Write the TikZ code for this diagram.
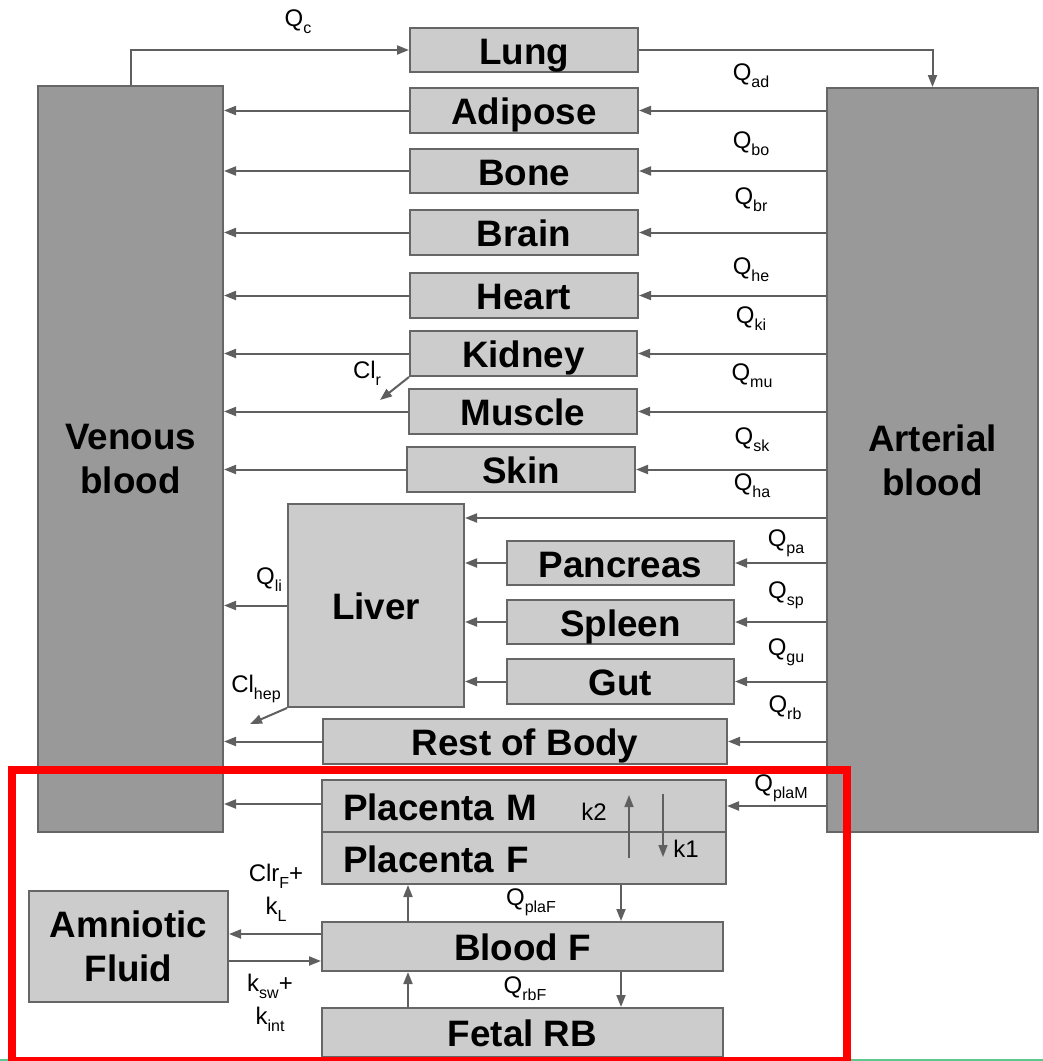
\documentclass[tikz,border=0pt]{standalone}
\usepackage{fontspec}
\setmainfont{Liberation Sans}
\usetikzlibrary{arrows.meta, calc, positioning}
\definecolor{grauhell}{HTML}{CCCCCC}
\definecolor{graudunkel}{HTML}{999999}
\definecolor{randgrau}{HTML}{666666}
\definecolor{pfeilgrau}{HTML}{5F5F5F}
\definecolor{rahmenrot}{HTML}{FF0000}
\definecolor{streifen}{HTML}{5CC88E}
\newcommand{\tief}[1]{\raisebox{-7pt}{\fontsize{16}{16}\selectfont #1}}

\begin{document}
\begin{tikzpicture}[x=1pt, y=-1pt,
    box/.style={draw=randgrau, line width=2pt, fill=grauhell, inner sep=0pt,
      font=\fontsize{36.8}{44}\selectfont\bfseries, align=center},
    zeile/.style={box, text height=28, text depth=0},
    blutbox/.style={box, fill=graudunkel},
    fluss/.style={draw=pfeilgrau, line width=2pt, -{Triangle[length=12pt,width=9pt]}},
    lab/.style={font=\fontsize{24}{33}\selectfont, inner sep=0pt, align=center}]
  \useasboundingbox (0,0) rectangle (1043,1061);
  \clip (0,0) rectangle (1043,1061);

  % Blutkompartimente
  \node[blutbox, minimum width=185, minimum height=746] (ven) at (130.5,459) {Venous\\blood};
  \node[blutbox, minimum width=211, minimum height=744] (art) at (932.5,460) {Arterial\\blood};

  % Organe
  \node[zeile, minimum width=228, minimum height=44] (lung) at (524,50) {Lung};
  \node[zeile, minimum width=228, minimum height=45] (adip) at (524,110.5) {Adipose};
  \node[zeile, minimum width=228, minimum height=44] (bone) at (524,171) {Bone};
  \node[zeile, minimum width=228, minimum height=45] (brain) at (524,232.5) {Brain};
  \node[zeile, minimum width=228, minimum height=45] (heart) at (524,295.5) {Heart};
  \node[zeile, minimum width=227, minimum height=45] (kid) at (523.5,353.5) {Kidney};
  \node[zeile, minimum width=228, minimum height=45] (musc) at (523,411.5) {Muscle};
  \node[zeile, minimum width=228, minimum height=45] (skin) at (521,469.5) {Skin};
  \node[zeile, minimum width=176, minimum height=203] (liver) at (376,605.5) {Liver};
  \node[zeile, minimum width=227, minimum height=44] (panc) at (620.5,563) {Pancreas};
  \node[zeile, minimum width=227, minimum height=44] (splen) at (620.5,622) {Spleen};
  \node[zeile, minimum width=227, minimum height=45] (gut) at (620.5,681.5) {Gut};
  \node[zeile, minimum width=404, minimum height=45] (rob) at (525,741.5) {Rest of Body};

  % Fetus
  \node[zeile, minimum width=404, minimum height=52, text width=362, align=left] (placM) at (524,806) {Placenta M};
  \node[zeile, minimum width=404, minimum height=52, text width=362, align=left] (placF) at (524,858) {Placenta F};
  \node[zeile, minimum width=401, minimum height=49] (bldF) at (522.5,946.5) {Blood F};
  \node[zeile, minimum width=401, minimum height=49] (fetRB) at (522.5,1032.5) {Fetal RB};
  \node[box, minimum width=199, minimum height=111] (amn) at (128.5,946.5) {Amniotic\\Fluid};

  % Kreislauf
  \draw[fluss] (ven.north) |- (lung.west);
  \draw[fluss] (lung.east) -| (art.north);
  \foreach \o in {adip, bone, brain, heart, kid, musc, skin, rob} {
    \draw[fluss] (art.west |- \o.east) -- (\o.east);
    \draw[fluss] (\o.west) -- (ven.east |- \o.west);
  }
  \coordinate (lebereingang) at ([yshift=-15pt]liver.north east);
  \draw[fluss] (art.west |- lebereingang) -- (lebereingang);
  \foreach \o in {panc, splen, gut} {
    \draw[fluss] (art.west |- \o.east) -- (\o.east);
    \draw[fluss] (\o.west) -- (liver.east |- \o.west);
  }
  \draw[fluss] (liver.west) -- (ven.east |- liver.west);
  \draw[fluss] (art.west |- placM.east) -- (placM.east);
  \coordinate (plaus) at ([yshift=2pt]placM.west);
  \draw[fluss] (plaus) -- (ven.east |- plaus);

  % Clearance
  \coordinate (clr) at (380,400);
  \coordinate (hepaus) at (250,724);
  \draw[fluss] (kid.south west) -- (clr);
  \draw[fluss] (liver.south west) -- (hepaus);

  % Plazentatransfer
  \coordinate (k2unten) at (629,858);
  \coordinate (k2oben) at (629,795);
  \coordinate (k1oben) at (663,794);
  \coordinate (k1unten) at (663,857);
  \draw[fluss, line width=1.6pt] (k2unten) -- (k2oben);
  \draw[fluss, line width=1.6pt] (k1oben) -- (k1unten);
  \draw[fluss] (408,0 |- bldF.north) -- (408,0 |- placF.south);
  \draw[fluss] (621,0 |- placF.south) -- (621,0 |- bldF.north);
  \draw[fluss] (408,0 |- fetRB.north) -- (408,0 |- bldF.south);
  \draw[fluss] (621,0 |- bldF.south) -- (621,0 |- fetRB.north);
  \draw[fluss] ([yshift=12.5pt]bldF.west) -- ([yshift=12.5pt]amn.east);
  \draw[fluss] ([yshift=-14.5pt]amn.east) -- ([yshift=-14.5pt]bldF.west);

  % Beschriftungen
  \node[lab] (qc) at (298,22) {Q\tief{c}};
  \node[lab] (qad) at (751,76) {Q\tief{ad}};
  \node[lab] (qbo) at (751,144) {Q\tief{bo}};
  \node[lab] (qbr) at (751,200) {Q\tief{br}};
  \node[lab] (qhe) at (751,270) {Q\tief{he}};
  \node[lab] (qki) at (751,319) {Q\tief{ki}};
  \node[lab] (qmu) at (752,376) {Q\tief{mu}};
  \node[lab] (qsk) at (752,440) {Q\tief{sk}};
  \node[lab] (qha) at (752,486) {Q\tief{ha}};
  \node[lab] (qpa) at (786,543) {Q\tief{pa}};
  \node[lab] (qsp) at (786,595) {Q\tief{sp}};
  \node[lab] (qgu) at (786,652) {Q\tief{gu}};
  \node[lab] (qrb) at (785,708) {Q\tief{rb}};
  \node[lab] (qplaM) at (781,788) {Q\tief{plaM}};
  \node[lab] (qplaF) at (531,902) {Q\tief{plaF}};
  \node[lab] (qrbF) at (525,989) {Q\tief{rbF}};
  \node[lab] (qli) at (269,580) {Q\tief{li}};
  \node[lab] (clhep) at (256,689) {Cl\tief{hep}};
  \node[lab] (clrlab) at (367,373) {Cl\tief{r}};
  \node[lab] (k2) at (594,812) {k2};
  \node[lab] (k1) at (686,849) {k1};
  \node[lab] (clrF) at (276,893) {Clr\tief{F}+\\k\tief{L}};
  \node[lab] (ksw) at (270,1003) {k\tief{sw}+\\k\tief{int}};

  % Markierung
  \draw[streifen, line width=2pt] (0,1060) -- (1043,1060);
  \draw[rahmenrot, line width=7.5pt] (12,770) rectangle (847,1061);
\end{tikzpicture}
\end{document}
